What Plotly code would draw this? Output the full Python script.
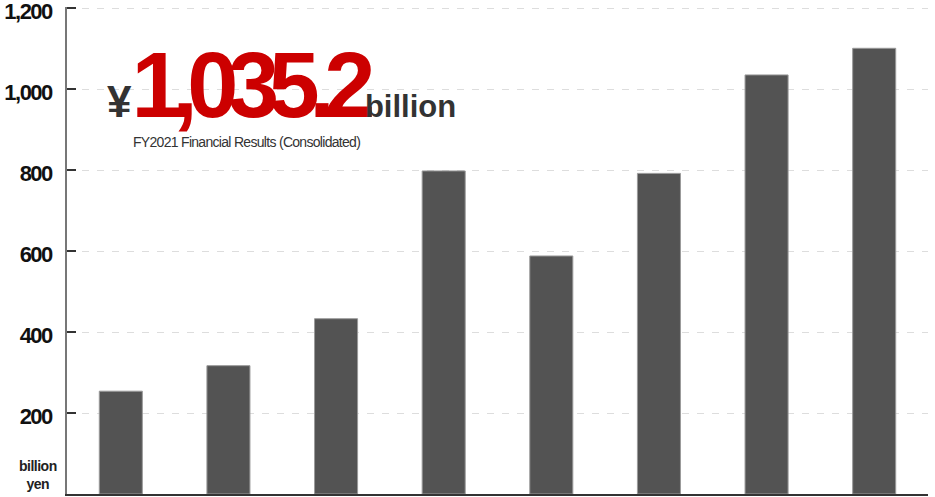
import plotly.graph_objects as go

# Net sales, billion yen
years = ['FY2015', 'FY2016', 'FY2017', 'FY2018', 'FY2019', 'FY2020', 'FY2021', 'FY2022']
sales = [254, 317, 433, 798, 588, 792, 1035.2, 1101]

y_ticks = [200, 400, 600, 800, 1000, 1200]
y_labels = ['200', '400', '600', '800', '1,000', '1,200']

headline = '1,035.2'
subtitle = 'FY2021 Financial Results (Consolidated)'

font_main = 'Liberation Sans, Arial, sans-serif'


def tight(s, sp):
    return "<span style='letter-spacing:%spx'>%s</span>" % (sp, s)


fig = go.Figure()
fig.add_trace(go.Bar(
    x=years,
    y=sales,
    width=0.4,
    marker=dict(color='#535353', line=dict(color='#9a9a9a', width=1)),
    hoverinfo='x+y'
))

# headline figure
fig.add_annotation(
    xref='paper', yref='paper', x=0.044, y=0.731,
    xanchor='left', yanchor='bottom', showarrow=False,
    text=("<span style='font-size:44px;fill:#333333'>¥</span>"
          "<span style='font-size:92px;letter-spacing:-10.5px'>" + headline + "</span>"
          "<span style='font-size:31px;fill:#333333'>billion</span>"),
    font=dict(family=font_main, size=31, color='#cc0000', weight='bold')
)
fig.add_annotation(
    xref='paper', yref='paper', x=0.074, y=0.722,
    xanchor='left', yanchor='middle', showarrow=False,
    text=tight(subtitle, -0.7),
    font=dict(family=font_main, size=14, color='#333333')
)
fig.add_annotation(
    xref='paper', yref='paper', x=-0.0337, y=0.04,
    xanchor='center', yanchor='middle', showarrow=False,
    text=tight('billion', -0.5) + '<br>' + tight('yen', -0.5),
    font=dict(family=font_main, size=14, color='#222222', weight='bold')
)

fig.update_layout(
    width=935, height=497,
    margin=dict(l=67, r=7, t=7, b=3, autoexpand=False),
    plot_bgcolor='white', paper_bgcolor='white',
    showlegend=False,
    bargap=0.6,
    xaxis=dict(
        showticklabels=False, ticks='', showgrid=False,
        showline=True, linecolor='#333333', linewidth=2,
        range=[-0.5, 7.5], fixedrange=True, automargin=False
    ),
    yaxis=dict(
        range=[0, 1203],
        tickvals=y_ticks, ticktext=[tight(t, -1.5) for t in y_labels],
        ticks='inside', ticklen=9, tickcolor='#333333', tickwidth=1.5,
        ticklabelstandoff=9, ticklabelshift=3, ticklabeloverflow='allow',
        tickfont=dict(family=font_main, size=22, color='#111111', weight='bold'),
        showline=True, linecolor='#777777', linewidth=1.5,
        showgrid=True, gridcolor='#dddddd', gridwidth=1, griddash='7px,8px',
        zeroline=False, fixedrange=True, automargin=False
    )
)

# page body has a default 8px margin; drop it so the chart sits at 0,0
fig.write_html('out.html', config={'displayModeBar': False},
               post_script="document.body.style.margin='0';")
